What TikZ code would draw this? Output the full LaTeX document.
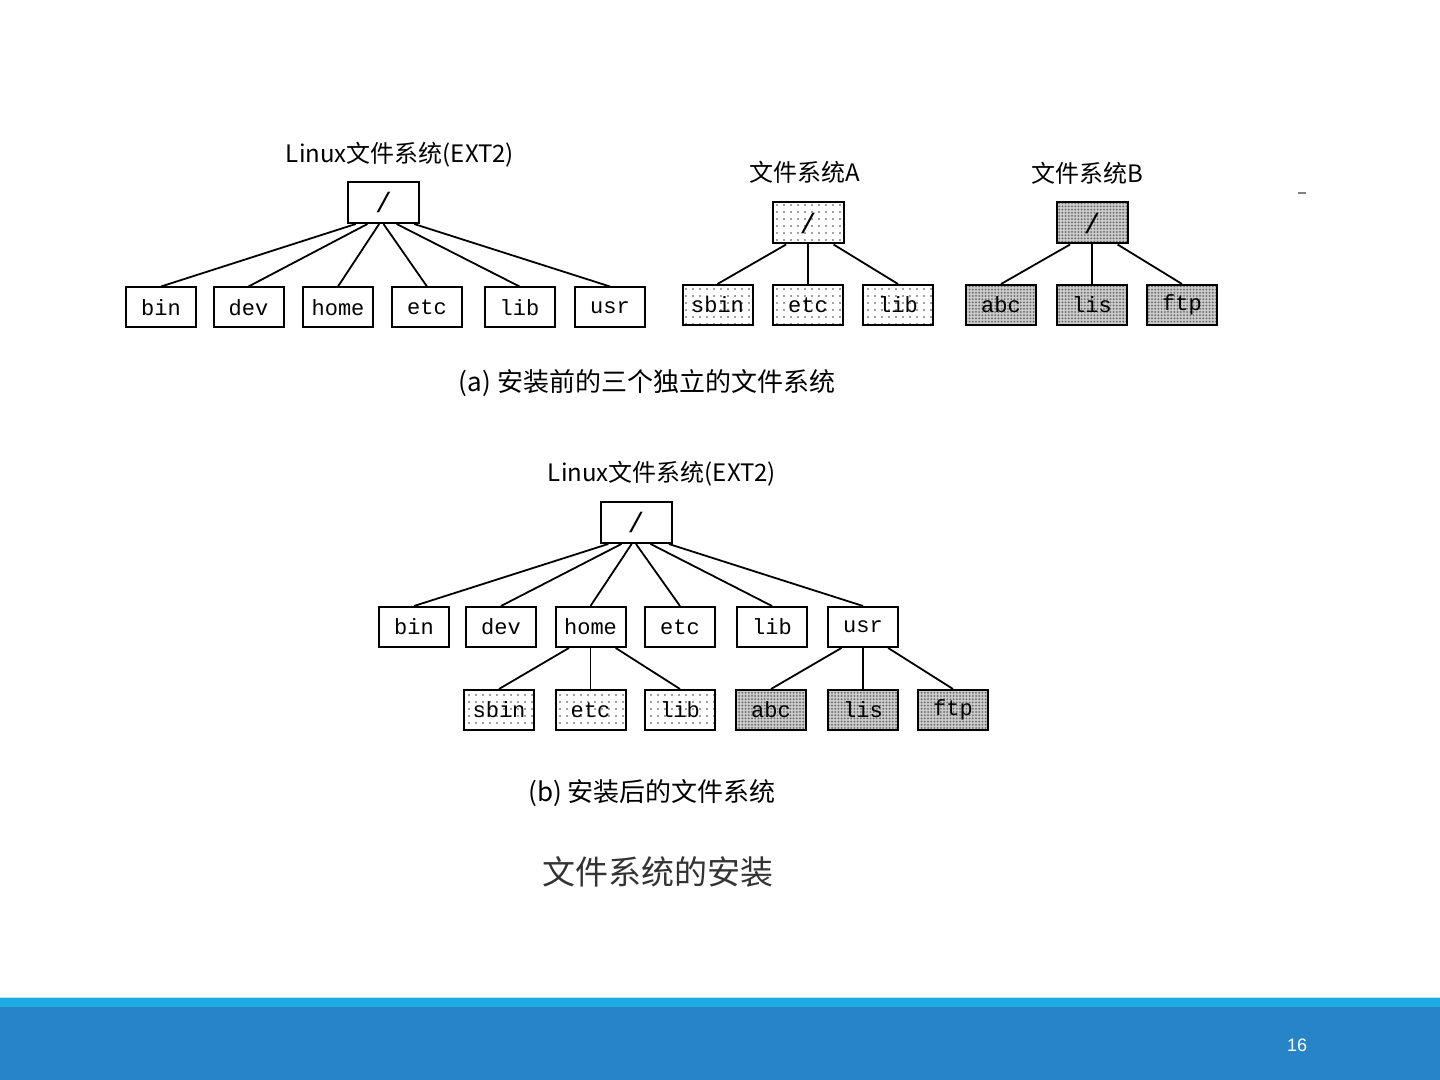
\documentclass[tikz,border=0pt]{standalone}
\usepackage{fontspec}
\setmainfont{Noto Sans CJK SC}
\newfontfamily\monof{Liberation Mono}
\newfontfamily\sansf{Liberation Sans}
\usetikzlibrary{patterns,calc}
\definecolor{bandlight}{HTML}{1EAAE2}
\definecolor{banddark}{HTML}{2784C7}
\definecolor{captiongray}{HTML}{333333}
\pgfdeclarepatternformonly{sparsedots}{\pgfqpoint{-1pt}{-1pt}}{\pgfqpoint{1pt}{1pt}}{\pgfqpoint{3.5pt}{3.5pt}}{\pgfpathcircle{\pgfqpoint{0pt}{0pt}}{0.4pt}\pgfusepath{fill}}
\pgfdeclarepatternformonly{densedots}{\pgfqpoint{-1pt}{-1pt}}{\pgfqpoint{1pt}{1pt}}{\pgfqpoint{1.6pt}{1.6pt}}{\pgfpathcircle{\pgfqpoint{0pt}{0pt}}{0.5pt}\pgfusepath{fill}}
\tikzset{
  dirbox/.style={draw=black, line width=1pt, minimum width=35pt, minimum height=20pt, inner sep=0pt, font=\monof\fontsize{11}{12}\selectfont},
  rootbox/.style={dirbox, minimum width=35.5pt, minimum height=20.5pt, font=\monof\fontsize{14}{14}\selectfont},
  fsa/.style={preaction={fill=white}, pattern=sparsedots, pattern color=black!75},
  fsb/.style={preaction={fill=gray!40}, pattern=densedots, pattern color=black!60},
  link/.style={draw=black, line width=0.9pt},
  title/.style={font=\fontsize{12}{14}\selectfont, inner sep=0pt},
  subcap/.style={font=\fontsize{13}{15}\selectfont, inner sep=0pt},
}
\begin{document}
\begin{tikzpicture}[x=0.5pt,y=-0.5pt]
\useasboundingbox (0,0) rectangle (1440,1080);
\fill[white] (0,0) rectangle (1440,1080);

% ---------- (a) Linux file system ----------
\node[title] (t1) at (400,155) {Linux文件系统(EXT2)};
\node[rootbox] (r1) at (383.5,202.5) {/};
\node[dirbox] (bin1)  at (161,307.5) {bin};
\node[dirbox] (dev1)  at (248.5,307.5) {dev};
\node[dirbox] (home1) at (338,307.5) {home};
\node[dirbox] (etc1)  at (427,307.5) {etc};
\node[dirbox] (lib1)  at (519.5,307.5) {lib};
\node[dirbox] (usr1)  at (610,307.5) {usr};
\draw[link] ($(r1.south west)!0.12!(r1.south east)$) -- (bin1.north);
\draw[link] ($(r1.south west)!0.28!(r1.south east)$) -- (dev1.north);
\draw[link] ($(r1.south west)!0.44!(r1.south east)$) -- (home1.north);
\draw[link] ($(r1.south west)!0.50!(r1.south east)$) -- (etc1.north);
\draw[link] ($(r1.south west)!0.68!(r1.south east)$) -- (lib1.north);
\draw[link] ($(r1.south west)!0.92!(r1.south east)$) -- (usr1.north);

% ---------- File system A ----------
\node[title] (tA) at (805,172) {文件系统A};
\node[rootbox,fsa] (rA) at (808,223) {/};
\node[dirbox,fsa] (sbinA) at (717.5,305) {sbin};
\node[dirbox,fsa] (etcA)  at (808,305) {etc};
\node[dirbox,fsa] (libA)  at (898,305) {lib};
\draw[link] ($(rA.south west)!0.2!(rA.south east)$) -- (sbinA.north);
\draw[link] (rA.south) -- (etcA.north);
\draw[link] ($(rA.south west)!0.85!(rA.south east)$) -- (libA.north);

% ---------- File system B ----------
\node[title] (tB) at (1087,173) {文件系统B};
\node[rootbox,fsb] (rB) at (1092,223) {/};
\node[dirbox,fsb] (abcB) at (1001,305) {abc};
\node[dirbox,fsb] (lisB) at (1092,305) {lis};
\node[dirbox,fsb] (ftpB) at (1182,305) {ftp};
\draw[link] ($(rB.south west)!0.2!(rB.south east)$) -- (abcB.north);
\draw[link] (rB.south) -- (lisB.north);
\draw[link] ($(rB.south west)!0.85!(rB.south east)$) -- (ftpB.north);

\draw[gray, line width=0.6pt] (1298,193) -- (1306,193);

\node[subcap] (capa) at (647,383) {(a) 安装前的三个独立的文件系统};

% ---------- (b) mounted file system ----------
\node[title] (t2) at (662,474) {Linux文件系统(EXT2)};
\node[rootbox] (r2) at (636,522.5) {/};
\node[dirbox] (bin2)  at (414,627) {bin};
\node[dirbox] (dev2)  at (501,627) {dev};
\node[dirbox] (home2) at (590.5,627) {home};
\node[dirbox] (etc2)  at (680,627) {etc};
\node[dirbox] (lib2)  at (772,627) {lib};
\node[dirbox] (usr2)  at (863,627) {usr};
\draw[link] ($(r2.south west)!0.12!(r2.south east)$) -- (bin2.north);
\draw[link] ($(r2.south west)!0.30!(r2.south east)$) -- (dev2.north);
\draw[link] ($(r2.south west)!0.44!(r2.south east)$) -- (home2.north);
\draw[link] ($(r2.south west)!0.50!(r2.south east)$) -- (etc2.north);
\draw[link] ($(r2.south west)!0.70!(r2.south east)$) -- (lib2.north);
\draw[link] ($(r2.south west)!0.95!(r2.south east)$) -- (usr2.north);

\node[dirbox,fsa] (sbin2) at (499,710) {sbin};
\node[dirbox,fsa] (etc2b) at (590.5,710) {etc};
\node[dirbox,fsa] (lib2b) at (680,710) {lib};
\node[dirbox,fsb] (abc2)  at (771,710) {abc};
\node[dirbox,fsb] (lis2)  at (863,710) {lis};
\node[dirbox,fsb] (ftp2)  at (953,710) {ftp};
\draw[link] ($(home2.south west)!0.2!(home2.south east)$) -- (sbin2.north);
\draw[link] (home2.south) -- (etc2b.north);
\draw[link] ($(home2.south west)!0.85!(home2.south east)$) -- (lib2b.north);
\draw[link] ($(usr2.south west)!0.2!(usr2.south east)$) -- (abc2.north);
\draw[link] (usr2.south) -- (lis2.north);
\draw[link] ($(usr2.south west)!0.85!(usr2.south east)$) -- (ftp2.north);

\node[subcap] (capb) at (652,793) {(b) 安装后的文件系统};
\node[font=\fontsize{16.5}{19}\selectfont, text=captiongray, inner sep=0pt] (main) at (658,872) {文件系统的安装};

% ---------- footer ----------
\fill[bandlight] (0,997) rectangle (1440,1008);
\fill[banddark] (0,1007) rectangle (1440,1080);
\draw[cyan!30, line width=0.5pt] (0,997) -- (1440,997);
\node[text=white, font=\sansf\fontsize{9}{11}\selectfont, inner sep=0pt] (pg) at (1297,1045) {16};
\end{tikzpicture}
\end{document}
